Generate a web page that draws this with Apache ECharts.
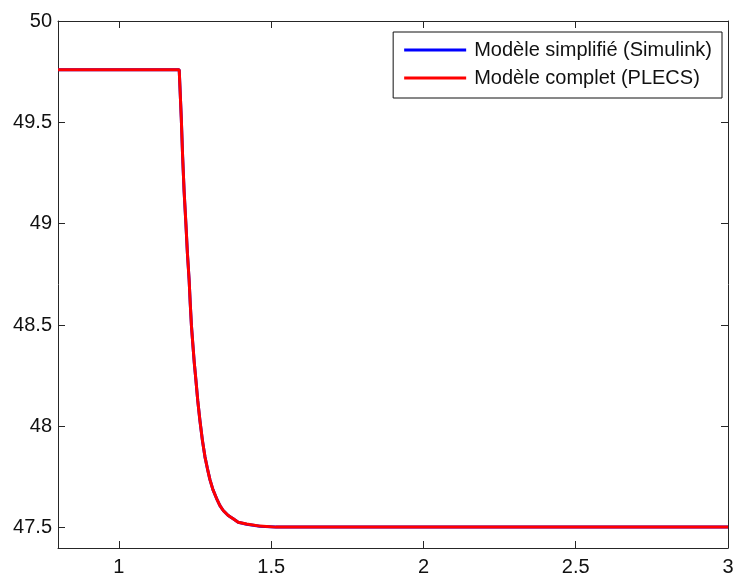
<!DOCTYPE html>
<html>
<head>
<meta charset="utf-8">
<script src="https://cdn.jsdelivr.net/npm/echarts@6/dist/echarts.min.js"></script>
<style>
html,body{margin:0;padding:0;background:#fff;}
#chart{width:734px;height:574px;}
</style>
</head>
<body>
<div id="chart"></div>
<script>
// Time (s)
var time = [0.8, 1.198, 1.2047, 1.2093, 1.2142, 1.2201, 1.2250, 1.2306, 1.2342, 1.2381, 1.2431, 1.2473, 1.2529, 1.2588, 1.2660, 1.2742, 1.2824, 1.2906, 1.2989, 1.3087, 1.3208, 1.3317, 1.3425, 1.3589, 1.3753, 1.3917, 1.4193, 1.4630, 1.5155, 3.0];
// Modèle simplifié (Simulink)
var simulink = [49.759, 49.759, 49.526, 49.329, 49.157, 48.996, 48.852, 48.721, 48.607, 48.498, 48.398, 48.317, 48.227, 48.128, 48.029, 47.931, 47.851, 47.792, 47.737, 47.688, 47.644, 47.609, 47.585, 47.560, 47.544, 47.527, 47.517, 47.507, 47.503, 47.503];
// Modèle complet (PLECS)
var plecs = [49.759, 49.759, 49.526, 49.329, 49.157, 48.996, 48.852, 48.721, 48.607, 48.498, 48.398, 48.317, 48.227, 48.128, 48.029, 47.931, 47.851, 47.792, 47.737, 47.688, 47.644, 47.609, 47.585, 47.560, 47.544, 47.527, 47.518, 47.508, 47.503, 47.503];
var xTicks = [1, 1.5, 2, 2.5, 3];
var yTicks = [47.5, 48, 48.5, 49, 49.5, 50];
var seriesNames = ['Modèle simplifié (Simulink)', 'Modèle complet (PLECS)'];

function pairs(xs, ys) { return xs.map(function (x, i) { return [x, ys[i]]; }); }

var FONT = 'Liberation Sans, Arial, sans-serif';
var AX = '#262626';
function xAxisDef(pos, showLabel) {
  return {
    type: 'value', position: pos, min: 0.8, max: 3,
    axisLine: { show: true, onZero: false, lineStyle: { color: AX, width: 1 } },
    axisTick: { show: true, inside: true, length: 7, customValues: xTicks, lineStyle: { color: AX } },
    axisLabel: { show: showLabel, customValues: xTicks, margin: 9, fontSize: 20, color: '#111', fontFamily: FONT },
    splitLine: { show: false }
  };
}
function yAxisDef(pos, showLabel) {
  return {
    type: 'value', position: pos, min: 47.4, max: 50,
    axisLine: { show: true, onZero: false, lineStyle: { color: AX, width: 1 } },
    axisTick: { show: true, inside: true, length: 7, customValues: yTicks, lineStyle: { color: AX } },
    axisLabel: { show: showLabel, customValues: yTicks, margin: 6, fontSize: 20, color: '#111', fontFamily: FONT },
    splitLine: { show: false }
  };
}

var chart = echarts.init(document.getElementById('chart'), null, { renderer: 'canvas' });
chart.setOption({
  animation: false,
  backgroundColor: '#fff',
  grid: { left: 58, right: 6, top: 21, bottom: 26, containLabel: false, outerBoundsMode: 'none' },
  xAxis: [xAxisDef('bottom', true), xAxisDef('top', false)],
  yAxis: [yAxisDef('left', true), yAxisDef('right', false)],
  legend: {
    orient: 'vertical', right: 12, top: 32,
    backgroundColor: '#fff', borderColor: '#111', borderWidth: 1, borderRadius: 0,
    padding: [8, 10, 10, 11], itemGap: 8,
    itemWidth: 62, itemHeight: 3, icon: 'rect',
    textStyle: { fontSize: 20, lineHeight: 20, color: '#111', fontFamily: FONT, padding: [0, 0, 0, 3] },
    data: seriesNames
  },
  series: [
    { name: seriesNames[0], type: 'line', xAxisIndex: 0, yAxisIndex: 0, data: pairs(time, simulink),
      symbol: 'none', color: '#0000ff', lineStyle: { width: 3, color: '#0000ff' } },
    { name: seriesNames[1], type: 'line', xAxisIndex: 0, yAxisIndex: 0, data: pairs(time, plecs),
      symbol: 'none', color: '#ff0000', lineStyle: { width: 3, color: '#ff0000' } }
  ]
});
</script>
</body>
</html>
